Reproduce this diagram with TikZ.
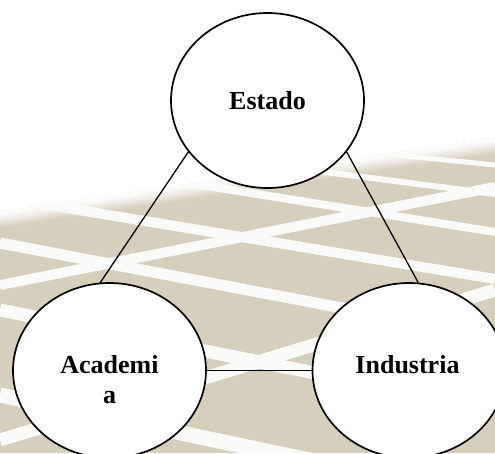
\documentclass[tikz,border=0pt]{standalone}
\usepackage{fontspec}
\setmainfont{Liberation Serif}
\usetikzlibrary{shapes.geometric}
\definecolor{tilec}{RGB}{214,207,188}
\definecolor{groutc}{RGB}{250,250,248}
\begin{document}
\begin{tikzpicture}[x=1pt,y=-1pt,
  ell/.style={draw=black, line width=1.7pt, fill=white, ellipse, minimum width=193pt, minimum height=175pt, inner sep=0pt},
  lbl/.style={font=\bfseries\fontsize{26}{30}\selectfont, align=center, inner sep=0pt, anchor=base},
  link/.style={draw=black, line width=1.3pt},
  groutline/.style={draw=groutc, line cap=butt}]
\useasboundingbox (0,0) rectangle (495,453);
\fill[white] (0,0) rectangle (495,453);
% tiled floor background
\begin{scope}
  \clip (0,212) -- (495,138) -- (495,453) -- (0,453) -- cycle;
  \fill[tilec] (0,0) rectangle (495,453);
  \foreach \i in {0,...,31} {
    \pgfmathsetmacro\p{100*(\i/32)^1.3}
    \pgfmathsetmacro\t{212+0.5*\i}
    \pgfmathsetmacro\s{138+0.5*\i}
    \fill[tilec!\p!white] (0,\t) -- (495,\s) -- (495,\s+2) -- (0,\t+2) -- cycle;
  }
  \foreach \a/\b/\w in {115/165/5, 130/194/6, 153/232/8, 197/279/10, 243/337/11, 310/409/13, 395/499/15,
                         285/187/10, 440/290/13} {
    \draw[groutline, line width=\w pt] (0,\a) -- (495,\b);
  }
\end{scope}
% nodes
\node[ell] (estado) at (267.5,100.5) {};
\node[ell] (academia) at (109.5,370.5) {};
\node[ell] (industria) at (409,370.5) {};
% connectors
\draw[link] (estado.213.4) -- (academia.96.2);
\draw[link] (estado.-33.4) -- (industria.84.7);
\draw[link] (academia.east) -- (industria.west);
% labels
\node[lbl] (estadoT) at (267.5,109) {Estado};
\node[lbl] (academiaT) at (109.5,403) {Academi\\a};
\node[lbl] (industriaT) at (407.5,373) {Industria};
\end{tikzpicture}
\end{document}
